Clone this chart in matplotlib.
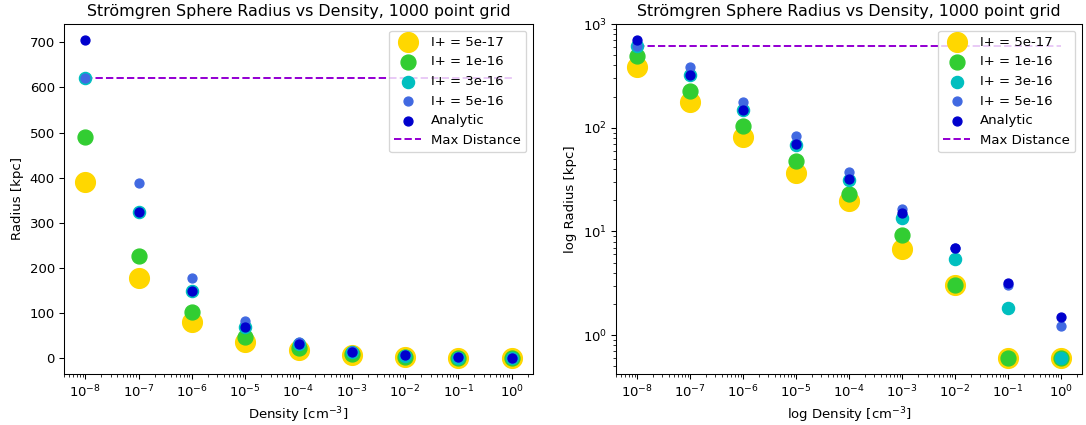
import matplotlib
matplotlib.use("Agg")
import matplotlib.pyplot as plt
import numpy as np

density = [1e-8, 1e-7, 1e-6, 1e-5, 1e-4, 1e-3, 1e-2, 1e-1, 1e0]
r_5e17 = [390, 178, 81, 37, 19.6, 6.8, 3.05, 0.6, 0.6]
r_1e16 = [490, 226, 103, 47.5, 23.2, 9.2, 3.05, 0.6, 0.6]
r_3e16 = [620, 325, 149, 68.7, 31.6, 13.4, 5.46, 1.83, 0.6]
r_5e16 = [620, 388, 177, 82.6, 37.2, 16.5, 6.9, 3.05, 1.23]
r_analytic = [705, 324, 150, 69.5, 32.3, 15.0, 6.95, 3.2, 1.5]
max_distance = 620

series = [
    ("I+ = 5e-17", r_5e17, "gold", 225),
    ("I+ = 1e-16", r_1e16, "limegreen", 128),
    ("I+ = 3e-16", r_3e16, "c", 85),
    ("I+ = 5e-16", r_5e16, "royalblue", 46),
    ("Analytic", r_analytic, "mediumblue", 46),
]

DPI = 95
fig = plt.figure(figsize=(1086 / DPI, 425 / DPI), dpi=DPI)
ax1 = fig.add_axes([64 / 1086, 1 - 374 / 425, 469 / 1086, 350 / 425])
ax2 = fig.add_axes([616 / 1086, 1 - 374 / 425, 466 / 1086, 350 / 425])

title = "Strömgren Sphere Radius vs Density, 1000 point grid"
for ax, logy in [(ax1, False), (ax2, True)]:
    for label, vals, col, s in series:
        ax.scatter(density, vals, s=s, color=col, label=label, zorder=2)
    ax.hlines(max_distance, density[0], density[-1], colors="darkviolet",
              linestyles="dashed", label="Max Distance", zorder=1)
    ax.set_xscale("log")
    if logy:
        ax.set_yscale("log")
    ax.set_xticks(density)
    ax.set_title(title, fontsize=12)
    ax.legend(loc="upper right", fontsize=10)

ax1.set_xlabel("Density [cm$^{-3}$]")
ax1.set_ylabel("Radius [kpc]")
ax2.set_xlabel("log Density [cm$^{-3}$]")
ax2.set_ylabel("log Radius [kpc]")

fig.savefig("out.png", dpi=DPI)
